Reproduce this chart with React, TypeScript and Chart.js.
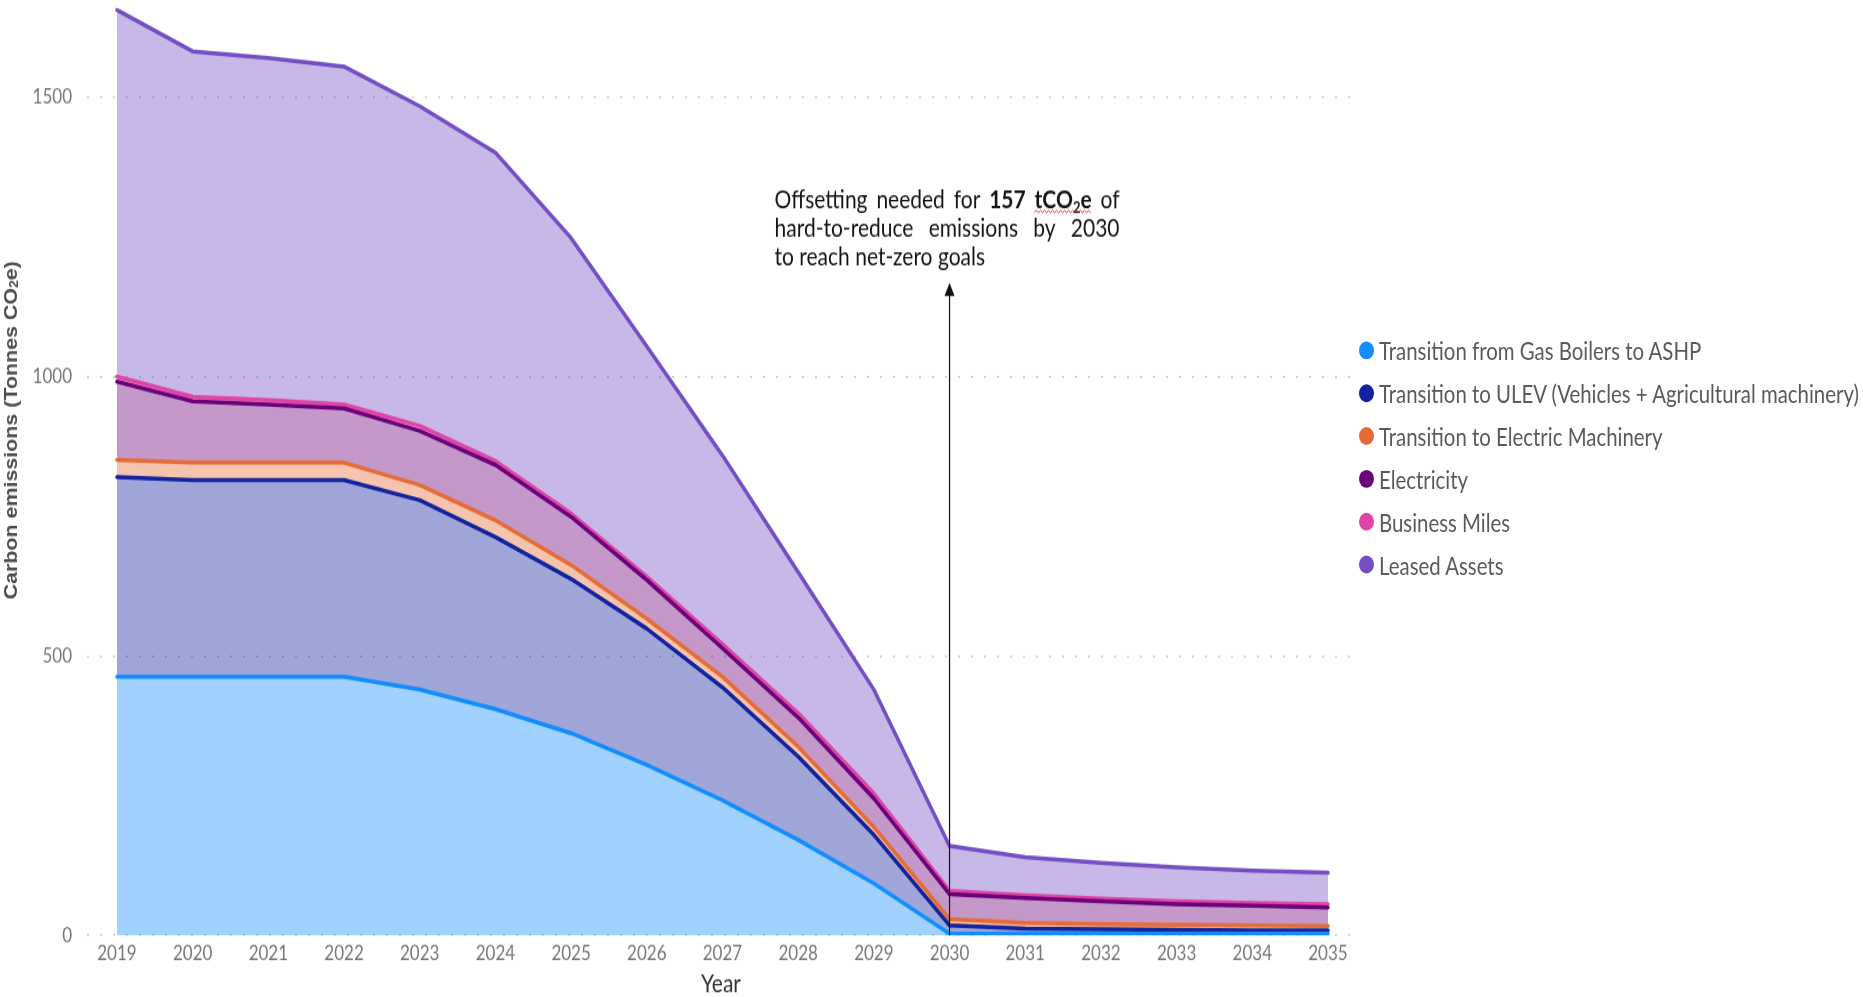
import React, { useEffect, useRef } from 'react';
import { Chart, registerables } from 'chart.js';

Chart.register(...registerables);

// ---------------- data ----------------
const YEARS = [2019, 2020, 2021, 2022, 2023, 2024, 2025, 2026, 2027, 2028, 2029, 2030, 2031, 2032, 2033, 2034, 2035];

const GAS_BOILERS_TO_ASHP = [463, 463, 463, 463, 440, 405, 362, 305, 242, 171, 93, 3, 3, 3, 3, 3, 3];
const ULEV = [357, 352, 352, 352, 339, 308, 276, 244, 202, 149, 87, 15, 9, 8, 7, 6, 6];
const ELECTRIC_MACHINERY = [31, 31, 31, 31, 27, 30, 25, 18, 19, 18, 14, 11, 10, 9, 9, 9, 8];
const ELECTRICITY = [140, 110, 104, 97, 97, 99, 86, 69, 51, 52, 51, 45, 45, 41, 37, 35, 33];
const BUSINESS_MILES = [9, 8, 8, 7, 9, 7, 6, 6, 7, 8, 9, 6, 5, 5, 5, 5, 6];
const LEASED_ASSETS = [656, 618, 612, 605, 572, 552, 493, 412, 338, 252, 186, 80, 68, 64, 61, 58, 56];

const SERIES_NAMES = [
  'Transition from Gas Boilers to ASHP',
  'Transition to ULEV (Vehicles + Agricultural machinery)',
  'Transition to Electric Machinery',
  'Electricity',
  'Business Miles',
  'Leased Assets',
];
const SERIES_VALUES = [GAS_BOILERS_TO_ASHP, ULEV, ELECTRIC_MACHINERY, ELECTRICITY, BUSINESS_MILES, LEASED_ASSETS];

const Y_TICKS = [0, 500, 1000, 1500];
const ANNOTATION_YEAR = 2030;
const ARROW_TOP_VALUE = 1168;
const Y_TITLE = ['Carbon emissions (Tonnes CO', '2', 'e)'];
const X_TITLE = 'Year';

// ---------------- styles ----------------
const SERIES_COLORS = ['#118DFF', '#12239E', '#E66C37', '#6B007B', '#E044A7', '#744EC2'];

const W = 1863;
const H = 838;
const STRETCH = 997 / 838;

function rgba(hex: string, a: number) {
  const n = parseInt(hex.slice(1), 16);
  return `rgba(${(n >> 16) & 255},${(n >> 8) & 255},${n & 255},${a})`;
}

type Run = { text: string; font: string; dy?: number };

function runsWidth(ctx: CanvasRenderingContext2D, runs: Run[]) {
  let w = 0;
  for (const r of runs) {
    ctx.font = r.font;
    w += ctx.measureText(r.text).width;
  }
  return w;
}

function drawRuns(ctx: CanvasRenderingContext2D, runs: Run[], x: number, y: number) {
  let cx = x;
  for (const r of runs) {
    ctx.font = r.font;
    ctx.fillText(r.text, cx, y + (r.dy || 0));
    cx += ctx.measureText(r.text).width;
  }
  return cx;
}

const ANN_FONT = '21px Lato, "Open Sans", sans-serif';
const ANN_BOLD = '700 21px Lato, "Open Sans", sans-serif';
const ANN_SUB = '700 13px Lato, "Open Sans", sans-serif';

const customDrawPlugin = {
  id: 'customDraw',
  afterDatasetsDraw(chart: any) {
    const { ctx, scales } = chart;
    const x = scales.x;
    const y = scales.y;
    const ax = x.getPixelForValue(ANNOTATION_YEAR);
    const yBottom = y.getPixelForValue(0);
    const yTop = y.getPixelForValue(ARROW_TOP_VALUE);

    ctx.save();
    // arrow
    ctx.strokeStyle = '#111';
    ctx.fillStyle = '#111';
    ctx.lineWidth = 1.2;
    ctx.beginPath();
    ctx.moveTo(ax, yBottom);
    ctx.lineTo(ax, yTop + 8);
    ctx.stroke();
    ctx.beginPath();
    ctx.moveTo(ax, yTop);
    ctx.lineTo(ax - 5, yTop + 11);
    ctx.lineTo(ax + 5, yTop + 11);
    ctx.closePath();
    ctx.fill();

    // annotation text
    const left = ax - 175;
    const right = ax + 170;
    const boxW = right - left;
    ctx.textBaseline = 'alphabetic';
    ctx.textAlign = 'left';
    ctx.fillStyle = '#141414';

    const line1: Run[][] = [
      [{ text: 'Offsetting', font: ANN_FONT }],
      [{ text: 'needed', font: ANN_FONT }],
      [{ text: 'for', font: ANN_FONT }],
      [{ text: '157', font: ANN_BOLD }],
      [{ text: 'tCO', font: ANN_BOLD }, { text: '2', font: ANN_SUB, dy: 4 }, { text: 'e', font: ANN_BOLD }],
      [{ text: 'of', font: ANN_FONT }],
    ];
    const line2: Run[][] = [
      [{ text: 'hard-to-reduce', font: ANN_FONT }],
      [{ text: 'emissions', font: ANN_FONT }],
      [{ text: 'by', font: ANN_FONT }],
      [{ text: '2030', font: ANN_FONT }],
    ];

    const justify = (words: Run[][], baseY: number, mark?: number) => {
      const widths = words.map((w) => runsWidth(ctx, w));
      const total = widths.reduce((a, b) => a + b, 0);
      const gap = (boxW - total) / (words.length - 1);
      let cx = left;
      words.forEach((w, i) => {
        const start = cx;
        const end = drawRuns(ctx, w, cx, baseY);
        if (mark === i) {
          ctx.save();
          ctx.strokeStyle = '#e0302a';
          ctx.lineWidth = 1;
          ctx.beginPath();
          let up = true;
          ctx.moveTo(start, baseY + 3);
          for (let px = start + 2; px <= end; px += 2) {
            ctx.lineTo(px, baseY + (up ? 1.8 : 3.6));
            up = !up;
          }
          ctx.stroke();
          ctx.restore();
        }
        cx = end + gap;
      });
    };

    const b1 = yTop - 62.5;
    const b2 = yTop - 38.7;
    const b3 = yTop - 14.9;
    justify(line1, b1, 4);
    justify(line2, b2);
    ctx.font = ANN_FONT;
    ctx.fillText('to reach net-zero goals', left, b3);
    ctx.restore();
  },
  afterDraw(chart: any) {
    const { ctx } = chart;
    ctx.save();
    ctx.fillStyle = '#4a4a4a';
    ctx.textBaseline = 'middle';
    ctx.textAlign = 'left';
    const font = 'bold 18px "Liberation Sans", Arial, sans-serif';
    const sub = 'bold 12px "Liberation Sans", Arial, sans-serif';
    const runs: Run[] = [
      { text: Y_TITLE[0], font },
      { text: Y_TITLE[1], font: sub, dy: 3 },
      { text: Y_TITLE[2], font },
    ];
    const w = runsWidth(ctx, runs);
    ctx.translate(12, 361.6);
    ctx.rotate(-Math.PI / 2);
    drawRuns(ctx, runs, -w / 2, 0);
    ctx.restore();
  },
};

export default function App() {
  const canvasRef = useRef<HTMLCanvasElement | null>(null);

  useEffect(() => {
    document.body.style.margin = '0';
    const canvas = canvasRef.current;
    if (!canvas) return;

    const datasets = SERIES_NAMES.map((name, i) => ({
      label: name,
      data: YEARS.map((yr, j) => ({ x: yr, y: SERIES_VALUES[i][j] })),
      borderColor: SERIES_COLORS[i],
      backgroundColor: rgba(SERIES_COLORS[i], 0.4),
      borderWidth: 3.5,
      borderJoinStyle: 'round' as const,
      borderCapStyle: 'round' as const,
      pointRadius: 0,
      pointHoverRadius: 0,
      tension: 0,
      fill: i === 0 ? 'origin' : '-1',
    }));

    const tickFont = { family: 'Lato, "Open Sans", sans-serif', size: 17 };

    const chart = new Chart(canvas, {
      type: 'line',
      data: { datasets },
      plugins: [customDrawPlugin],
      options: {
        animation: false,
        responsive: false,
        events: [],
        layout: { padding: { left: 0, right: 508, top: 0, bottom: 0 } },
        plugins: {
          legend: { display: false },
          tooltip: { enabled: false },
        },
        scales: {
          x: {
            type: 'linear',
            min: 2018.604,
            max: 2035.357,
            grid: { display: false, drawTicks: false },
            border: { display: false },
            ticks: {
              color: '#777',
              font: tickFont,
              padding: 5,
              maxRotation: 0,
              autoSkip: false,
              callback: (v: any) => String(v),
            },
            afterBuildTicks: (s: any) => {
              s.ticks = YEARS.map((v) => ({ value: v }));
            },
            afterFit: (s: any) => {
              s.height = 51.8;
            },
            title: {
              display: true,
              text: X_TITLE,
              color: '#333',
              font: { family: 'Lato, "Open Sans", sans-serif', size: 21, lineHeight: 1.0 },
              padding: { top: 0, bottom: 0 },
            },
          },
          y: {
            type: 'linear',
            stacked: true,
            min: 0,
            max: 1674,
            grid: { color: '#c8c8c8', lineWidth: 1.5, drawTicks: false },
            border: { display: false, dash: [2, 11] },
            ticks: {
              color: '#777',
              font: tickFont,
              padding: 15,
              callback: (v: any) => String(v),
            },
            afterBuildTicks: (s: any) => {
              s.ticks = Y_TICKS.map((v) => ({ value: v }));
            },
            afterFit: (s: any) => {
              s.width = 87;
              s.paddingTop = 0;
              s.paddingBottom = 0;
            },
          },
        },
      } as any,
    });

    return () => {
      chart.destroy();
    };
  }, []);

  return (
    <div
      style={{
        position: 'absolute',
        left: 0,
        top: 0,
        width: W,
        height: H,
        transform: `scaleY(${STRETCH})`,
        transformOrigin: '0 0',
        background: '#fff',
      }}
    >
      <canvas ref={canvasRef} width={W} height={H} style={{ display: 'block' }} />
      <div
        style={{
          position: 'absolute',
          left: 1359,
          top: 276.6,
          fontFamily: 'Lato, "Open Sans", sans-serif',
          fontSize: 20.4,
          color: '#5a5a5a',
        }}
      >
        {SERIES_NAMES.map((name, i) => (
          <div key={name} style={{ display: 'flex', alignItems: 'center', height: 36, whiteSpace: 'nowrap' }}>
            <span
              style={{
                width: 15,
                height: 15,
                borderRadius: '50%',
                background: SERIES_COLORS[i],
                marginRight: 5,
                flex: 'none',
              }}
            />
            <span>{name}</span>
          </div>
        ))}
      </div>
    </div>
  );
}
